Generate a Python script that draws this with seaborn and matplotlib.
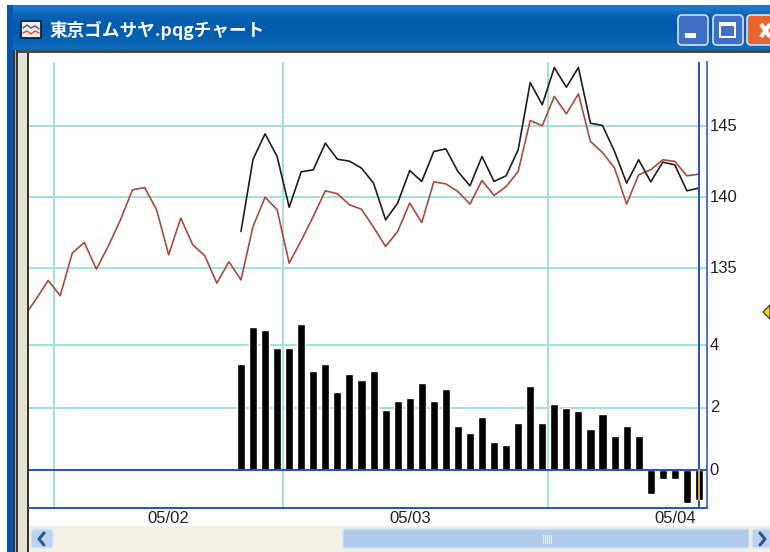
import numpy as np
import pandas as pd
import matplotlib
matplotlib.use("Agg")
import matplotlib.pyplot as plt
from matplotlib.patches import Rectangle, FancyBboxPatch, Polygon
from matplotlib.transforms import ScaledTranslation
import seaborn as sns

sns.set_theme(style="white")
plt.rcParams['font.family'] = ['Liberation Sans', 'DejaVu Sans']

title_text = "東京ゴムサヤ.pqgチャート"
date_labels = ["05/02", "05/03", "05/04"]
date_positions = [-6, 14, 36]
day_grid = [-15.5, 3.5, 25.5]
cursor_pos = 38

red_prices = [131.58, 132.8, 134.12, 133.04, 136.05, 136.8, 134.92, 136.56, 138.4, 140.52,
              140.68, 139.11, 135.93, 138.52, 136.64, 135.86, 133.93, 135.44, 134.16, 137.93,
              140.0, 139.11, 135.34, 136.94, 138.64, 140.45, 140.24, 139.46, 139.15, 137.88,
              136.52, 137.58, 139.58, 138.21, 141.08, 140.94, 140.4, 139.51, 141.18, 140.12,
              140.75, 141.81, 145.41, 145.04, 147.11, 145.88, 147.29, 143.93, 143.15, 142.05,
              139.51, 141.58, 141.93, 142.64, 142.52, 141.51, 141.62]
black_prices = [137.58, 142.68, 144.47, 142.87, 139.29, 141.79, 141.93, 143.81, 142.68, 142.54,
                142.05, 140.99, 138.4, 139.58, 141.88, 141.11, 143.22, 143.41, 141.81, 140.8,
                142.87, 141.11, 141.51, 143.34, 148.09, 146.52, 149.15, 147.76, 149.15, 145.22,
                145.06, 143.22, 140.99, 142.64, 141.08, 142.47, 142.28, 140.45, 140.64]
spread = [3.38, 4.59, 4.49, 3.91, 3.91, 4.68, 3.18, 3.38, 2.5, 3.08, 2.89, 3.18, 1.93,
          2.2, 2.3, 2.8, 2.2, 2.6, 1.4, 1.2, 1.7, 0.9, 0.8, 1.5, 2.7, 1.5, 2.1, 2.0, 1.9,
          1.3, 1.8, 1.1, 1.4, 1.1, -0.77, -0.3, -0.3, -1.05, -0.96]
red_days = list(range(-18, -18 + len(red_prices)))
black_days = list(range(0, len(black_prices)))

W, H = 770, 552
GRID = "#A6DFDD"
BLUE = "#2A50B0"
EDGE = "#4F74C6"
TXT = "#222222"


def box(left, top, right, bottom):
    return [left / W, 1 - bottom / H, (right - left) / W, (bottom - top) / H]


fig = plt.figure(figsize=(W / 100, H / 100), dpi=100, facecolor="white")

# window chrome
c = fig.add_axes([0, 0, 1, 1], zorder=0)
c.set_xlim(0, W)
c.set_ylim(H, 0)
c.axis("off")
c.imshow(np.array([[0.20], [0.05], [0.0], [0.0], [0.05], [0.1]]),
         extent=(7, W, 50, 5), aspect="auto", zorder=1,
         cmap=matplotlib.colors.LinearSegmentedColormap.from_list("t", ["#005BAE", "#2E86D0"]),
         interpolation="bilinear", vmin=0, vmax=0.3)
c.set_xlim(0, W)
c.set_ylim(H, 0)
for rect, col in [((7, 5, 6, 547), "#0058AE"), ((13, 50, 757, 3), "#4A4A4A"),
                  ((13, 50, 5, 502), "#3A3A3A"), ((15, 50, 1, 502), "#B0B0B0"),
                  ((18, 53, 9, 499), "#E6E3D2"), ((27, 53, 2, 499), "#333333"),
                  ((29, 526, 741, 26), "#F1EFE6")]:
    c.add_patch(Rectangle(rect[:2], rect[2], rect[3], color=col, lw=0, zorder=2))

# title icon
c.add_patch(Rectangle((21, 21), 20, 17, fc="#E8ECF4", ec="#10203A", lw=1.3, zorder=3))
c.plot([23, 27, 31, 35, 39], [28, 25, 28, 26, 29], color="#555555", lw=1, zorder=4)
c.plot([23, 27, 31, 35, 39], [33, 31, 34, 31, 33], color="#D8503A", lw=1, zorder=4)
c.text(50, 30, title_text, color="white", fontsize=12.7, fontweight="bold", va="center", ha="left",
       family=["Noto Sans CJK JP", "DejaVu Sans"], zorder=4)

# window buttons
for left, right, col in [(678, 708, "#3F70C4"), (713, 743, "#3F70C4"), (747, 776, "#E8662E")]:
    c.add_patch(FancyBboxPatch((left, 15), right - left, 30, boxstyle="round,pad=0,rounding_size=4",
                               fc=col, ec="#D5E2F2", lw=1.2, zorder=3))
c.add_patch(Rectangle((685, 33), 11, 5, color="white", lw=0, zorder=4))
c.add_patch(Rectangle((720, 23), 15, 14, fc="none", ec="white", lw=1.4, zorder=4))
c.add_patch(Rectangle((720, 23), 15, 3, fc="white", ec="none", zorder=4))
c.plot([761, 770], [24, 37], color="white", lw=3, zorder=4, solid_capstyle="butt")
c.plot([761, 770], [37, 24], color="white", lw=3, zorder=4, solid_capstyle="butt")

# scrollbar
for left, right in [(31, 53), (752, 772)]:
    c.add_patch(FancyBboxPatch((left, 529), right - left, 19, boxstyle="round,pad=0,rounding_size=3",
                               fc="#BCD2EE", ec="#DCE8F6", lw=1, zorder=3))
c.add_patch(FancyBboxPatch((343, 529), 406, 19, boxstyle="round,pad=0,rounding_size=2",
                           fc="#B0CBEA", ec="#D3E2F3", lw=1, zorder=3))
c.plot([44, 39, 44], [533, 539, 545], color="#2B5A8C", lw=2.2, zorder=4)
c.plot([760, 765, 760], [533, 539, 545], color="#2B5A8C", lw=2.2, zorder=4)
for gx in (543, 545, 547, 549, 551):
    c.plot([gx, gx], [535, 543], color="#E8F0FA", lw=0.8, zorder=4)

# side marker
c.add_patch(Polygon([(763, 312), (770, 305), (770, 319)], fc="#FFD800", ec="#444444", lw=1, zorder=4))

# price panel
ax = fig.add_axes(box(29, 62, 707, 320), zorder=2)
ax.patch.set_alpha(0)
lines = pd.concat([
    pd.DataFrame({"day": red_days, "price": red_prices, "series": "a"}),
    pd.DataFrame({"day": black_days, "price": black_prices, "series": "b"}),
])
sns.lineplot(data=lines, x="day", y="price", hue="series", palette={"a": "#A84A3C", "b": "#1E1E1E"},
             errorbar=None, legend=False, lw=1.2, ax=ax, zorder=4)
ax.set_ylim(131.33, 149.54)
ax.set_yticks([135, 140, 145])

# spread panel
ax2 = fig.add_axes(box(29, 320, 707, 508), zorder=2)
ax2.patch.set_alpha(0)
sns.barplot(x=black_days, y=spread, color="black", saturation=1, native_scale=True, width=0.67,
            ax=ax2, zorder=3)
ax2.set_ylim(-1.216, 4.8)
ax2.set_yticks([0, 2, 4])
ax2.axhline(0, color=BLUE, lw=1.4, zorder=3.5)
ax2.plot([cursor_pos, cursor_pos], [0, spread[-1]], color="#F0C020", lw=1.2, zorder=7)

for a in (ax, ax2):
    a.set_xlim(-17.59, 38.67)
    a.set_xlabel("")
    a.set_ylabel("")
    a.yaxis.tick_right()
    a.tick_params(axis="y", length=0, pad=2, labelsize=12, labelcolor=TXT)
    a.grid(True, axis="y", color=GRID, lw=1.4, zorder=1)
    a.grid(False, axis="x")
    a.set_axisbelow(True)
    for g in day_grid:
        a.axvline(g, color=GRID, lw=1.4, zorder=1)
    a.axvline(cursor_pos, color=BLUE, lw=1.4, zorder=6)
    for s in ("top", "left", "bottom"):
        a.spines[s].set_visible(False)
    a.spines["right"].set_color(EDGE)
    a.spines["right"].set_linewidth(1.4)
    nudge = ScaledTranslation(0, 1 / 100, fig.dpi_scale_trans)
    for lab in a.get_yticklabels():
        lab.set_transform(lab.get_transform() + nudge)

ax.set_xticks([])
ax2.set_xticks(date_positions)
ax2.set_xticklabels(date_labels)
ax2.tick_params(axis="x", length=0, pad=2, labelsize=12, labelcolor=TXT)
ax2.spines["bottom"].set_visible(True)
ax2.spines["bottom"].set_color(BLUE)
ax2.spines["bottom"].set_linewidth(1.4)

fig.savefig("out.png", dpi=100)
